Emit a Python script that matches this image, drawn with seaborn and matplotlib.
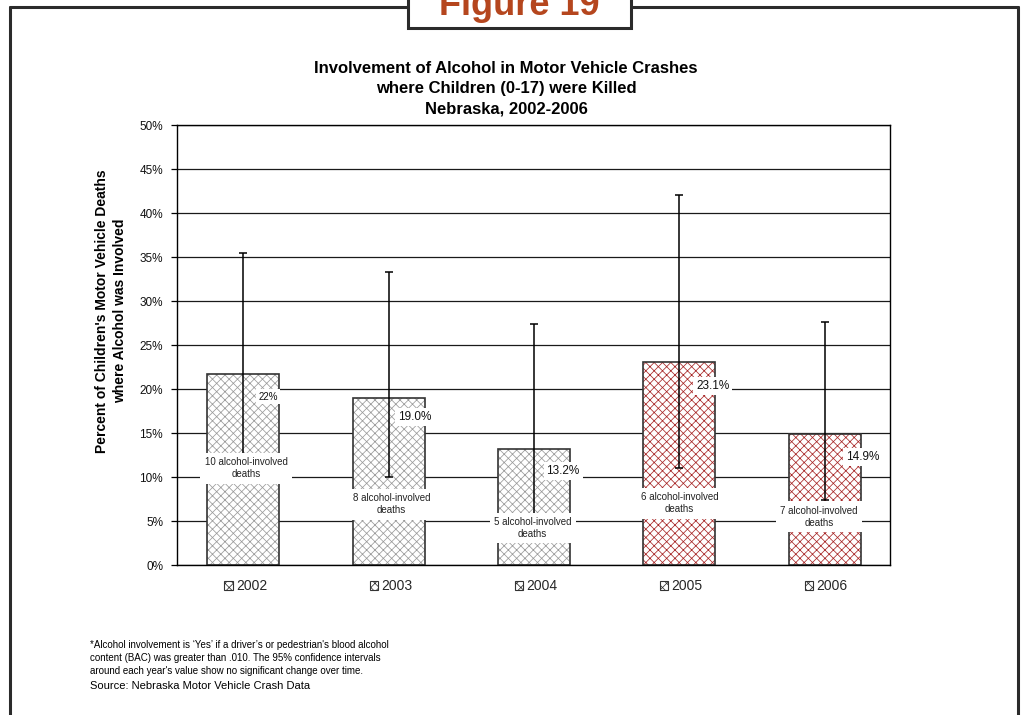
import numpy as np
import pandas as pd
import matplotlib
matplotlib.use("Agg")
import matplotlib.pyplot as plt
import seaborn as sns
from matplotlib.patches import Patch, Rectangle
from matplotlib.lines import Line2D

# ---------------- data ----------------
years = ["2002", "2003", "2004", "2005", "2006"]
pct = [21.7, 19.0, 13.2, 23.1, 14.9]
value_labels = ["22%", "19.0%", "13.2%", "23.1%", "14.9%"]
ci_low = [11.5, 10.0, 4.5, 11.0, 7.4]
ci_high = [35.5, 33.3, 27.4, 42.0, 27.6]
deaths = [10, 8, 5, 6, 7]
y_ticks = [0, 5, 10, 15, 20, 25, 30, 35, 40, 45, 50]

title = ("Involvement of Alcohol in Motor Vehicle Crashes\n"
         "where Children (0-17) were Killed\n"
         "Nebraska, 2002-2006")
ylabel = "Percent of Children's Motor Vehicle Deaths\nwhere Alcohol was Involved"
footnote = ("*Alcohol involvement is \u2018Yes\u2019 if a driver\u2019s or pedestrian's blood alcohol\n"
            "content (BAC) was greater than .010. The 95% confidence intervals\n"
            "around each year's value show no significant change over time.")
source = "Source: Nebraska Motor Vehicle Crash Data"

# ---------------- style ----------------
sns.set_theme(style="white")
plt.rcParams["font.family"] = ["Liberation Sans", "DejaVu Sans"]
plt.rcParams["hatch.linewidth"] = 0.55

gray_hatch = "#9a9a9a"
red_hatch = "#a82828"
hatch_colors = [gray_hatch, gray_hatch, gray_hatch, red_hatch, red_hatch]
outline = "#333333"
frame_col = "#2b2b2b"

W, H = 1029, 715
fig = plt.figure(figsize=(W / 100, H / 100), dpi=100)
ax = fig.add_axes([177 / W, 1 - 565 / H, (890 - 177) / W, (565 - 125) / H])

df = pd.DataFrame({"year": years, "pct": pct})
bar_w = 0.495
sns.barplot(data=df, x="year", y="pct", color="white", width=bar_w,
            linewidth=0, ax=ax, zorder=2)
for p, c in zip(ax.patches, hatch_colors):
    p.set_facecolor("white")
    p.set_edgecolor(c)
    p.set_hatch("xxxx")
    p.set_linewidth(0)

xs = np.arange(len(years))
ax.bar(xs, pct, width=bar_w, fill=False, edgecolor=outline, linewidth=1.2, zorder=2.5)

pct_a = np.array(pct)
yerr = [pct_a - np.array(ci_low), np.array(ci_high) - pct_a]
ax.errorbar(xs, pct, yerr=yerr, fmt="none", ecolor="black", elinewidth=1.1,
            capsize=3, capthick=1.1, zorder=3)

ax.set_xlim(-0.456, 4.448)
ax.set_ylim(0, 50)
ax.set_yticks(y_ticks)
ax.set_yticklabels([f"{t}%" for t in y_ticks], fontsize=8.5)
ax.set_xticks([])
ax.set_xlabel("")
ax.set_ylabel("")
ax.yaxis.grid(True, color="#1a1a1a", linewidth=0.9)
ax.set_axisbelow(True)
ax.tick_params(axis="y", which="major", left=True, length=4, width=0.9,
               color="black", pad=6, labelcolor="#111111")
for s in ax.spines.values():
    s.set_visible(True)
    s.set_color("black")
    s.set_linewidth(1.0)

# value labels
val_dx = [0.17, 0.18, 0.20, 0.23, 0.26]
val_y = [19.1, 16.8, 10.7, 20.3, 12.3]
val_fs = [7, 8.5, 8.5, 8.5, 8.5]
for i, (lab, dx, yy, fs) in enumerate(zip(value_labels, val_dx, val_y, val_fs)):
    ax.text(i + dx, yy, lab, ha="center", va="center", fontsize=fs, color="#111111",
            zorder=6, bbox=dict(boxstyle="square,pad=0.25", fc="white", ec="none"))

# death labels
d_dx = [0.02, 0.02, -0.01, 0.0, -0.04]
d_y = [11.0, 6.9, 4.2, 7.0, 5.5]
for i, (n, dx, yy) in enumerate(zip(deaths, d_dx, d_y)):
    ax.text(i + dx, yy, f"{n} alcohol-involved\ndeaths", ha="center", va="center",
            fontsize=7, color="#222222", linespacing=1.25, zorder=6,
            bbox=dict(boxstyle="square,pad=0.45", fc="white", ec="none"))

# legend
handles = [Patch(facecolor="white", edgecolor=c, hatch="xxxx", linewidth=0.8)
           for c in hatch_colors]
leg = fig.legend(handles, years, loc="center", bbox_to_anchor=(536 / W, 1 - 586 / H),
                 ncol=5, frameon=False, fontsize=10, handlelength=0.6,
                 handleheight=0.6, handletextpad=0.25, columnspacing=7.35,
                 borderpad=0)
for lh in leg.legend_handles:
    lh.set_edgecolor(outline)

# titles and texts
fig.text(506 / W, 1 - 89 / H, title, ha="center", va="center", fontsize=12,
         fontweight="bold", linespacing=1.45, color="black")
fig.text(111 / W, 1 - 311 / H, ylabel, ha="center", va="center", rotation=90,
         fontsize=10, fontweight="bold", linespacing=1.42, color="black")
fig.text(90 / W, 1 - 640 / H, footnote, ha="left", va="top", fontsize=7,
         linespacing=1.35, color="black")
fig.text(90 / W, 1 - 686 / H, source, ha="left", va="center", fontsize=8,
         color="black")

# outer frame
lw_frame = 2.2
fig.add_artist(Line2D([10 / W, 1018 / W], [1 - 7 / H, 1 - 7 / H], color=frame_col,
                      lw=lw_frame, transform=fig.transFigure, zorder=1))
fig.add_artist(Line2D([10 / W, 10 / W], [1 - 7 / H, -0.01], color=frame_col,
                      lw=lw_frame, transform=fig.transFigure, zorder=1))
fig.add_artist(Line2D([1018 / W, 1018 / W], [1 - 7 / H, -0.01], color=frame_col,
                      lw=lw_frame, transform=fig.transFigure, zorder=1))
fig.add_artist(Rectangle((408 / W, 1 - 28 / H), (631 - 408) / W, 40 / H,
                         facecolor="white", edgecolor=frame_col, lw=lw_frame,
                         transform=fig.transFigure, zorder=2))
fig.text(519.5 / W, 1 - 15 / H, "Figure 19", ha="center", va="baseline",
         fontsize=26, fontweight="bold", color="#b5461e", zorder=3)

fig.savefig("out.png", dpi=100, facecolor="white")
